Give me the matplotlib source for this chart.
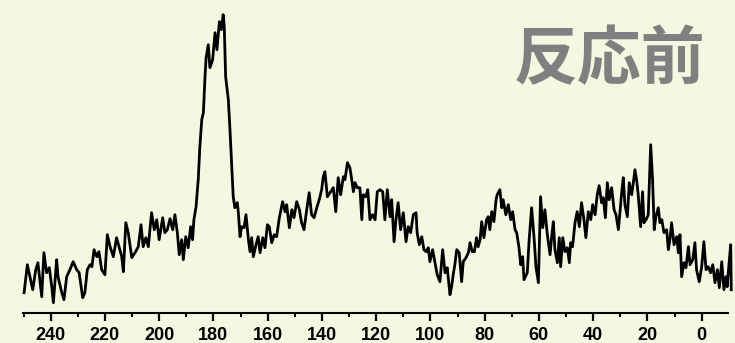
import matplotlib
matplotlib.use("Agg")
import matplotlib.pyplot as plt
from matplotlib.ticker import MultipleLocator

# Chemical shift (ppm) and intensity (a.u.) of the spectrum
shift = [
    249.8, 248.6, 246.6, 245.5, 244.7, 243.3, 242.5, 241.5, 240.5, 239.6,
    239.0, 237.8, 237.3, 235.9, 235.1, 234.1, 232.9, 231.7, 230.4, 229.5,
    228.2, 227.4, 226.5, 225.5, 224.8, 224.0, 223.0, 222.2, 221.2, 220.0,
    219.1, 218.1, 216.9, 215.7, 213.8, 213.2, 212.3, 211.4, 210.1, 208.9,
    207.7, 206.7, 205.9, 204.9, 204.0, 202.8, 201.8, 200.9, 200.0, 198.7,
    197.9, 197.0, 196.0, 195.0, 194.2, 193.3, 192.6, 191.7, 191.1, 190.2,
    189.3, 188.4, 187.7, 187.2, 186.4, 185.6, 185.0, 184.3, 183.7, 183.1,
    182.7, 181.9, 181.3, 180.3, 179.4, 178.7, 177.8, 177.1, 176.4, 176.0,
    175.5, 174.5, 173.9, 173.3, 172.7, 172.1, 171.2, 170.8, 170.2, 169.6,
    168.7, 168.0, 167.1, 166.5, 165.9, 165.3, 164.3, 163.5, 162.8, 161.8,
    161.0, 160.1, 159.4, 158.5, 157.6, 156.7, 155.7, 154.5, 153.6, 153.0,
    152.0, 151.1, 150.3, 149.3, 148.3, 147.5, 146.6, 145.6, 144.7, 143.8,
    142.9, 141.9, 141.0, 140.1, 139.5, 138.9, 138.0, 137.0, 135.8, 134.9,
    134.0, 133.1, 132.1, 131.5, 130.6, 129.7, 129.0, 128.4, 127.8, 127.0,
    126.0, 125.3, 124.8, 123.8, 123.1, 122.3, 121.3, 120.4, 119.6, 118.6,
    117.6, 116.8, 115.9, 114.9, 114.3, 113.4, 112.7, 111.9, 111.0, 110.0,
    109.0, 108.2, 107.3, 106.3, 105.3, 104.9, 104.1, 103.2, 102.4, 101.6,
    100.8, 100.2, 99.2, 98.3, 97.5, 96.5, 95.5, 94.6, 93.8, 92.8,
    92.2, 91.6, 91.0, 90.3, 89.4, 88.5, 87.9, 86.9, 86.0, 85.4,
    84.6, 83.8, 83.0, 82.4, 81.7, 81.1, 80.3, 79.3, 78.7, 78.1,
    77.4, 76.6, 75.8, 75.4, 74.4, 73.7, 73.2, 72.2, 71.3, 70.4,
    69.7, 68.8, 68.2, 67.4, 66.7, 66.0, 65.5, 64.3, 63.6, 62.7,
    61.8, 61.1, 60.2, 59.4, 58.6, 57.8, 56.9, 55.9, 55.3, 54.7,
    54.1, 53.2, 52.5, 52.0, 51.2, 50.4, 49.5, 48.8, 48.3, 47.6,
    46.7, 45.9, 45.1, 44.3, 43.4, 42.7, 41.8, 40.9, 40.2, 39.3,
    38.5, 37.8, 36.9, 36.3, 35.5, 34.8, 34.1, 33.2, 32.3, 31.6,
    30.7, 29.5, 28.9, 28.3, 27.4, 26.7, 25.8, 25.2, 24.6, 24.0,
    23.4, 22.5, 21.8, 21.3, 20.5, 19.7, 18.8, 18.1, 17.5, 16.9,
    16.0, 15.4, 14.7, 13.9, 12.9, 12.3, 11.7, 11.1, 10.2, 9.2,
    8.6, 8.0, 7.4, 6.5, 5.8, 4.9, 4.3, 3.3, 2.5, 1.9,
    0.9, 0.0, -0.8, -1.6, -2.4, -3.3, -4.1, -4.9, -5.8, -6.5,
    -7.4, -8.2, -9.0, -9.4, -10.2, -10.7, -10.9,
]
intensity = [
    20, 48, 23, 43, 50, 16, 60, 40, 45, 26,
    10, 53, 36, 20, 13, 36, 43, 51, 43, 40,
    15, 20, 43, 48, 46, 63, 56, 61, 43, 38,
    78, 66, 56, 75, 56, 41, 90, 80, 55, 60,
    66, 88, 66, 75, 66, 100, 83, 93, 73, 95,
    80, 83, 94, 83, 98, 80, 58, 73, 53, 76,
    65, 86, 73, 93, 106, 133, 166, 193, 200, 236,
    255, 268, 245, 253, 280, 263, 291, 283, 298, 286,
    236, 213, 183, 150, 116, 105, 110, 100, 76, 86,
    85, 98, 73, 61, 75, 56, 68, 76, 60, 75,
    65, 88, 86, 70, 78, 76, 95, 111, 101, 108,
    85, 103, 95, 111, 103, 90, 83, 103, 120, 98,
    95, 105, 113, 123, 136, 141, 116, 120, 125, 101,
    135, 118, 136, 133, 150, 145, 133, 121, 130, 125,
    125, 93, 118, 116, 123, 93, 98, 93, 121, 123,
    121, 93, 123, 96, 113, 71, 93, 110, 83, 100,
    71, 86, 80, 98, 100, 80, 68, 76, 63, 61,
    65, 51, 63, 50, 38, 31, 63, 40, 45, 18,
    26, 38, 48, 63, 60, 31, 51, 55, 60, 70,
    61, 61, 75, 66, 73, 91, 75, 93, 96, 83,
    101, 91, 113, 118, 123, 105, 113, 98, 108, 93,
    101, 83, 80, 66, 48, 56, 33, 40, 73, 105,
    75, 46, 30, 116, 85, 103, 78, 58, 76, 91,
    63, 50, 75, 46, 75, 61, 65, 50, 70, 66,
    90, 101, 86, 110, 93, 75, 101, 93, 108, 98,
    118, 127, 110, 115, 95, 130, 113, 125, 103, 98,
    83, 120, 135, 108, 96, 130, 118, 130, 143, 133,
    118, 86, 121, 90, 93, 98, 168, 133, 83, 96,
    105, 90, 93, 80, 83, 63, 73, 90, 68, 76,
    60, 78, 36, 50, 45, 66, 48, 53, 70, 43,
    31, 46, 71, 43, 46, 40, 48, 30, 43, 25,
    51, 23, 36, 26, 53, 68, 23,
]

tick_values = [240, 220, 200, 180, 160, 140, 120, 100, 80, 60, 40, 20, 0]
title_text = "反応前"

bg = "#f5f8e1"
fig = plt.figure(figsize=(7.35, 3.43), dpi=100, facecolor=bg)
ax = fig.add_axes([23 / 735, 30.3 / 343, 705 / 735, 312.7 / 343])
ax.set_facecolor(bg)

ax.plot(shift, intensity, color="black", lw=2.0, solid_joinstyle="round",
        clip_on=False)

ax.set_xlim(250.2, -9.7)
ax.set_ylim(0, 312.7)

for side in ("top", "left", "right"):
    ax.spines[side].set_visible(False)
ax.spines["bottom"].set_linewidth(1.5)
ax.yaxis.set_visible(False)

ax.set_xticks(tick_values)
ax.xaxis.set_minor_locator(MultipleLocator(10))
ax.tick_params(axis="x", which="major", direction="out", length=6,
               width=1.6, pad=4)
ax.tick_params(axis="x", which="minor", direction="out", length=3,
               width=1.4)
for lab in ax.get_xticklabels():
    lab.set_fontfamily(["Liberation Sans Narrow", "Liberation Sans"])
    lab.set_fontweight("bold")
    lab.set_fontsize(13)

fig.text(0.8286, 0.823, title_text, ha="center", va="center",
         fontsize=46, fontweight="bold", color="#808080",
         family=["Noto Sans CJK JP", "DejaVu Sans"])

fig.savefig("out.png", dpi=100, facecolor=bg)
